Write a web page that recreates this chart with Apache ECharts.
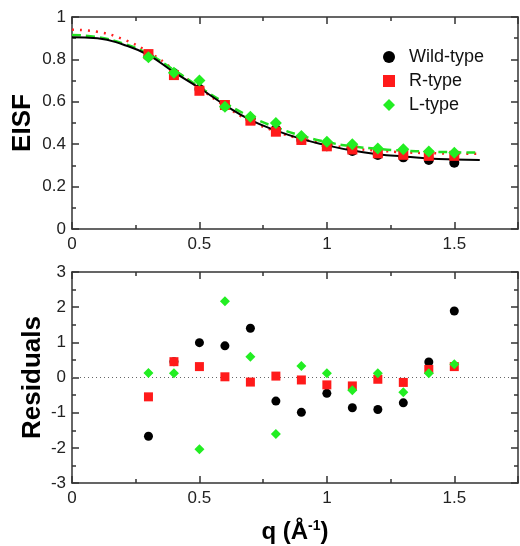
<!DOCTYPE html>
<html>
<head>
<meta charset="utf-8">
<script src="https://cdn.jsdelivr.net/npm/echarts@6/dist/echarts.min.js"></script>
<style>
  html, body { margin: 0; padding: 0; background: #fff; }
  #chart { width: 520px; height: 546px; }
</style>
</head>
<body>
<div id="chart"></div>
<script>
// q values of measured points
var qPoints = [0.3, 0.4, 0.5, 0.6, 0.7, 0.8, 0.9, 1.0, 1.1, 1.2, 1.3, 1.4, 1.5];

// EISF data
var eisfWild = [0.815, 0.735, 0.66, 0.58, 0.52, 0.47, 0.42, 0.39, 0.368, 0.349, 0.338, 0.326, 0.313];
var eisfR    = [0.825, 0.726, 0.652, 0.585, 0.511, 0.459, 0.42, 0.39, 0.375, 0.357, 0.35, 0.345, 0.345];
var eisfL    = [0.81, 0.737, 0.70, 0.577, 0.53, 0.50, 0.439, 0.412, 0.40, 0.38, 0.376, 0.365, 0.36];

// fitted curves
var qCurve   = [0, 0.1, 0.2, 0.3, 0.4, 0.5, 0.6, 0.7, 0.8, 0.9, 1.0, 1.1, 1.2, 1.3, 1.4, 1.5, 1.6];
var fitWild  = [0.905, 0.90, 0.87, 0.82, 0.74, 0.665, 0.585, 0.515, 0.465, 0.425, 0.395, 0.37, 0.353, 0.342, 0.333, 0.328, 0.325];
var fitR     = [0.94, 0.93, 0.895, 0.835, 0.752, 0.665, 0.58, 0.51, 0.46, 0.425, 0.40, 0.38, 0.37, 0.362, 0.358, 0.356, 0.355];
var fitL     = [0.915, 0.905, 0.875, 0.825, 0.75, 0.67, 0.595, 0.53, 0.48, 0.44, 0.41, 0.39, 0.378, 0.37, 0.365, 0.362, 0.36];

// residuals
var resWild = [-1.67, 0.45, 0.99, 0.90, 1.40, -0.67, -0.99, -0.45, -0.86, -0.91, -0.72, 0.44, 1.89];
var resR    = [-0.55, 0.45, 0.31, 0.02, -0.13, 0.04, -0.07, -0.21, -0.24, -0.05, -0.14, 0.23, 0.31];
var resL    = [0.13, 0.12, -2.04, 2.17, 0.59, -1.61, 0.33, 0.12, -0.36, 0.12, -0.42, 0.12, 0.38];

var font = 'Liberation Sans, Arial, sans-serif';
var axisColor = '#333';

function pairs(xs, ys) {
    var out = [];
    for (var i = 0; i < xs.length; i++) out.push([xs[i], ys[i]]);
    return out;
}

function xAx(grid, pos, showLabels, name) {
    var a = {
        type: 'value', gridIndex: grid, position: pos, min: 0, max: 1.75, interval: 0.5,
        axisLine: { show: true, onZero: false, lineStyle: { color: axisColor, width: 1.5 } },
        axisTick: { show: true, inside: true, length: 7, lineStyle: { color: axisColor, width: 1.5 } },
        minorTick: { show: true, splitNumber: 2, length: 4, lineStyle: { color: axisColor, width: 1.5 } },
        splitLine: { show: false },
        axisLabel: {
            show: showLabels, color: '#222', fontSize: 17, fontFamily: font, margin: 7,
            formatter: function (v) { return String(v); },
            showMaxLabel: false
        }
    };
    if (name) {
        a.name = name;
        a.nameLocation = 'middle';
        a.nameGap = 36;
        a.nameMoveOverlap = false;
        a.nameTextStyle = {
            fontSize: 24, fontWeight: 'bold', fontFamily: font, color: '#000',
            rich: { sup: { fontSize: 14, fontWeight: 'bold', fontFamily: font, verticalAlign: 'top', padding: [0, 0, 12, 0] } }
        };
    }
    return a;
}

function yAx(grid, pos, min, max, interval, showLabels, name, nameGap) {
    var a = {
        type: 'value', gridIndex: grid, position: pos, min: min, max: max, interval: interval,
        axisLine: { show: true, onZero: false, lineStyle: { color: axisColor, width: 1.5 } },
        axisTick: { show: true, inside: true, length: 7, lineStyle: { color: axisColor, width: 1.5 } },
        minorTick: { show: true, splitNumber: 2, length: 4, lineStyle: { color: axisColor, width: 1.5 } },
        splitLine: { show: false },
        axisLabel: { show: showLabels, color: '#222', fontSize: 17, fontFamily: font, margin: 6 }
    };
    if (name) {
        a.name = name;
        a.nameLocation = 'middle';
        a.nameGap = nameGap;
        a.nameMoveOverlap = false;
        a.nameTextStyle = { fontSize: 26, fontWeight: 'bold', fontFamily: font, color: '#000' };
    }
    return a;
}

var chart = echarts.init(document.getElementById('chart'));

chart.setOption({
    animation: false,
    backgroundColor: '#fff',
    grid: [
        { left: 72, top: 17, width: 446, height: 212 },
        { left: 72, top: 272, width: 446, height: 211 }
    ],
    legend: {
        orient: 'vertical',
        left: 378,
        top: 43,
        itemGap: 6,
        itemWidth: 12,
        itemHeight: 12,
        data: ['Wild-type', 'R-type', 'L-type'],
        textStyle: { fontSize: 18, fontFamily: font, color: '#111', padding: [0, 0, 0, 9] }
    },
    xAxis: [
        xAx(0, 'bottom', true),
        xAx(0, 'top', false),
        xAx(1, 'bottom', true, '{a|q (Å}{sup|-1}{a|)}'),
        xAx(1, 'top', false)
    ],
    yAxis: [
        yAx(0, 'left', 0, 1, 0.2, true, 'EISF', 36),
        yAx(0, 'right', 0, 1, 0.2, false),
        yAx(1, 'left', -3, 3, 1, true, 'Residuals', 26),
        yAx(1, 'right', -3, 3, 1, false)
    ],
    series: [
        {
            name: 'fit-R', type: 'line', xAxisIndex: 0, yAxisIndex: 0, smooth: true, showSymbol: false,
            lineStyle: { color: '#ff2020', width: 2.5, type: [2, 6] }, data: pairs(qCurve, fitR), z: 2
        },
        {
            name: 'fit-L', type: 'line', xAxisIndex: 0, yAxisIndex: 0, smooth: true, showSymbol: false,
            lineStyle: { color: '#22e022', width: 2.5, type: [9, 5] }, data: pairs(qCurve, fitL), z: 2
        },
        {
            name: 'fit-Wild', type: 'line', xAxisIndex: 0, yAxisIndex: 0, smooth: true, showSymbol: false,
            lineStyle: { color: '#000', width: 2 }, data: pairs(qCurve, fitWild), z: 3
        },
        {
            name: 'Wild-type', type: 'scatter', xAxisIndex: 0, yAxisIndex: 0, symbol: 'circle', symbolSize: 10,
            itemStyle: { color: '#000', opacity: 1 }, data: pairs(qPoints, eisfWild), z: 4
        },
        {
            name: 'R-type', type: 'scatter', xAxisIndex: 0, yAxisIndex: 0, symbol: 'rect', symbolSize: 10,
            itemStyle: { color: '#ff1a1a', opacity: 1 }, data: pairs(qPoints, eisfR), z: 5
        },
        {
            name: 'L-type', type: 'scatter', xAxisIndex: 0, yAxisIndex: 0, symbol: 'diamond', symbolSize: 12,
            itemStyle: { color: '#22ee22', opacity: 1 }, data: pairs(qPoints, eisfL), z: 6
        },
        {
            name: 'Wild-type', type: 'scatter', xAxisIndex: 2, yAxisIndex: 2, symbol: 'circle', symbolSize: 9,
            itemStyle: { color: '#000', opacity: 1 }, data: pairs(qPoints, resWild), z: 4,
            markLine: {
                silent: true, symbol: 'none', label: { show: false },
                lineStyle: { color: '#666', width: 1, type: [1, 3] },
                data: [{ yAxis: 0 }]
            }
        },
        {
            name: 'R-type', type: 'scatter', xAxisIndex: 2, yAxisIndex: 2, symbol: 'rect', symbolSize: 9,
            itemStyle: { color: '#ff1a1a', opacity: 1 }, data: pairs(qPoints, resR), z: 5
        },
        {
            name: 'L-type', type: 'scatter', xAxisIndex: 2, yAxisIndex: 2, symbol: 'diamond', symbolSize: 10,
            itemStyle: { color: '#22ee22', opacity: 1 }, data: pairs(qPoints, resL), z: 6
        }
    ]
});
</script>
</body>
</html>
